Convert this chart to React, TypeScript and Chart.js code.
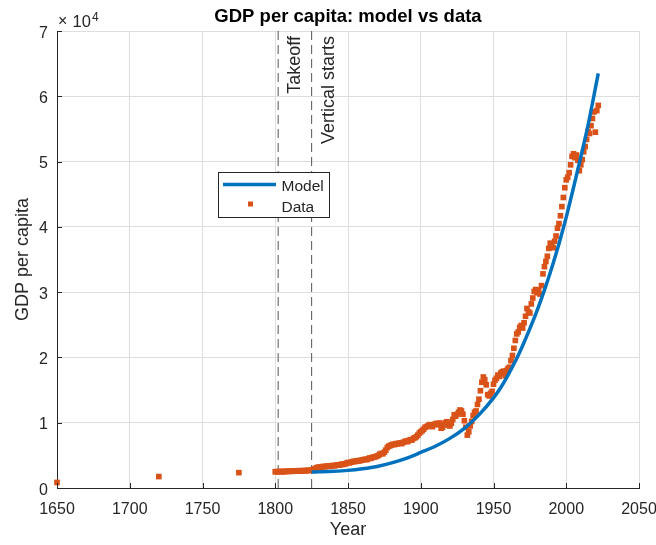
import React, { useEffect, useRef } from "react";
import { Chart, registerables } from "chart.js";

Chart.register(...registerables);

const FONT = '"Liberation Sans", Arial, Helvetica, sans-serif';
const INK = "#262626";
const GRID = "#dedede";
const MODEL_BLUE = "#0072BD";
const DATA_ORANGE = "#D95319";

const chartTitle = "GDP per capita: model vs data";
const xAxisTitle = "Year";
const yAxisTitle = "GDP per capita";
const xTickValues = [1650, 1700, 1750, 1800, 1850, 1900, 1950, 2000, 2050];
const yTickValues = [0, 10000, 20000, 30000, 40000, 50000, 60000, 70000];
const yExponent = 4;

// sparse early observations
const earlyYears = [1650, 1720, 1775];
const earlyGdp = [850, 1750, 2350];

// annual observations, 1800 onwards
const annualFirstYear = 1800;
const annualGdp = [
  2480, 2520, 2460, 2550, 2500, 2530, 2490, 2560, 2520, 2580,
  2540, 2600, 2560, 2620, 2580, 2600, 2650, 2610, 2660, 2620,
  2680, 2640, 2700, 2660, 2720, 2750, 2820, 2900, 3050, 3150,
  3200, 3150, 3250, 3300, 3250, 3350, 3300, 3400, 3350, 3420,
  3450, 3400, 3500, 3550, 3500, 3600, 3650, 3600, 3700, 3800,
  3900, 3850, 3950, 4000, 4100, 4050, 4150, 4200, 4150, 4250,
  4300, 4350, 4400, 4350, 4500, 4600, 4550, 4700, 4750, 4800,
  4900, 5000, 5200, 5300, 5250, 5500, 5800, 6200, 6400, 6500,
  6600, 6700, 6650, 6800, 6750, 6850, 6900, 6800, 7000, 7100,
  7200, 7100, 7300, 7400, 7350, 7600, 7700, 7850, 8100, 8400,
  8600, 8800, 9000, 9300, 9400, 9500, 9700, 9600, 9400, 9700,
  9800, 9900, 9700, 9950, 9150, 9300, 9700, 10000, 10150, 9600,
  9500, 9900, 10500, 11200, 11000, 11300, 11600, 11950, 11800, 11300,
  10300, 9300, 8100, 8600, 9500, 10200, 11100, 11600, 11800, 12800,
  13600, 14900, 16200, 17000, 16600, 15800, 14300, 14100, 14500, 14800,
  15900, 16500, 16800, 17300, 17100, 17600, 17800, 17900, 17200, 18000,
  18300, 18500, 19500, 20300, 21400, 22600, 23600, 23900, 24600, 24900,
  24500, 25300, 26300, 27500, 27000, 26800, 28200, 29100, 30100, 30400,
  29900, 30300, 29700, 31000, 32800, 33900, 34700, 35500, 36700, 37500,
  37200, 36800, 37800, 38600, 39800, 40500, 41700, 43100, 44500, 46000,
  47200, 47600, 48300, 49500, 50800, 51200, 50600, 51000, 50200, 48600,
  49500, 50300, 51500, 52300, 53400, 54600, 54300, 55500, 56600, 57600,
  54500, 57800, 58600,
];

// model path
const modelYears = [
  1825, 1830, 1840, 1850, 1860, 1870, 1880, 1890, 1900, 1910, 1920, 1930,
  1940, 1950, 1955, 1960, 1965, 1970, 1975, 1980, 1985, 1990, 1995, 2000,
  2005, 2010, 2015, 2020, 2022,
];
const modelGdp = [
  2450, 2480, 2560, 2700, 2950, 3300, 3850, 4550, 5450, 6400, 7600, 9150,
  11200, 13800, 15400, 17300, 19400, 21800, 24400, 27200, 30300, 33700, 37400, 41500,
  46000, 50700, 55600, 61200, 63500,
];

// vertical reference lines
const markerYears = [1802, 1825];
const markerLabels = ["Takeoff", "Vertical starts"];

const legendLabels = ["Model", "Data"];

const formatX = (v: number) => String(v);
const formatY = (v: number) => String(v / Math.pow(10, yExponent));

const decorations = {
  id: "decorations",
  afterDatasetsDraw(chart: any) {
    const { ctx, chartArea } = chart;
    const xs = chart.scales.x;
    const ys = chart.scales.y;
    const cx = (chartArea.left + chartArea.right) / 2;
    const cy = (chartArea.top + chartArea.bottom) / 2;
    ctx.save();

    // inward tick marks
    ctx.strokeStyle = INK;
    ctx.lineWidth = 1;
    ctx.beginPath();
    xTickValues.forEach((v) => {
      const px = Math.round(xs.getPixelForValue(v)) + 0.5;
      ctx.moveTo(px, chartArea.bottom);
      ctx.lineTo(px, chartArea.bottom - 5);
    });
    yTickValues.forEach((v) => {
      const py = Math.round(ys.getPixelForValue(v)) + 0.5;
      ctx.moveTo(chartArea.left, py);
      ctx.lineTo(chartArea.left + 5, py);
    });
    ctx.stroke();

    // tick labels
    ctx.fillStyle = INK;
    ctx.font = `16px ${FONT}`;
    ctx.textBaseline = "alphabetic";
    ctx.textAlign = "center";
    xTickValues.forEach((v) => {
      ctx.fillText(formatX(v), xs.getPixelForValue(v), chartArea.bottom + 26);
    });
    ctx.textAlign = "right";
    yTickValues.forEach((v) => {
      ctx.fillText(formatY(v), chartArea.left - 9, ys.getPixelForValue(v) + 6.5);
    });

    // exponent of the y axis
    ctx.textAlign = "left";
    ctx.font = `16px ${FONT}`;
    ctx.fillText("\u00d7", chartArea.left + 1, chartArea.top - 5);
    ctx.font = `16.5px ${FONT}`;
    ctx.fillText("10", chartArea.left + 15.5, chartArea.top - 4);
    ctx.font = `12px ${FONT}`;
    ctx.fillText(String(yExponent), chartArea.left + 35, chartArea.top - 10);

    // title and axis titles
    ctx.textAlign = "center";
    ctx.fillStyle = "#000";
    ctx.font = `bold 18.5px ${FONT}`;
    ctx.fillText(chartTitle, cx, 22);
    ctx.fillStyle = INK;
    ctx.font = `18px ${FONT}`;
    ctx.fillText(xAxisTitle, cx, chartArea.bottom + 47);
    ctx.save();
    ctx.translate(28, cy);
    ctx.rotate(-Math.PI / 2);
    ctx.fillText(yAxisTitle, 0, 0);
    ctx.restore();

    // labels of the vertical reference lines
    ctx.font = `18px ${FONT}`;
    ctx.textAlign = "right";
    markerYears.forEach((yr, i) => {
      const px = xs.getPixelForValue(yr);
      ctx.save();
      ctx.translate(px + 22, chartArea.top + 5);
      ctx.rotate(-Math.PI / 2);
      ctx.fillText(markerLabels[i], 0, 0);
      ctx.restore();
    });

    // legend
    const lx = 218.5, ly = 172.5, lw = 111, lh = 45;
    ctx.fillStyle = "#fff";
    ctx.fillRect(lx, ly, lw, lh);
    ctx.strokeStyle = INK;
    ctx.lineWidth = 1;
    ctx.strokeRect(lx, ly, lw, lh);
    ctx.strokeStyle = MODEL_BLUE;
    ctx.lineWidth = 3.5;
    ctx.beginPath();
    ctx.moveTo(223, 184.5);
    ctx.lineTo(276, 184.5);
    ctx.stroke();
    ctx.fillStyle = DATA_ORANGE;
    ctx.fillRect(248, 201.5, 5, 5);
    ctx.fillStyle = INK;
    ctx.textAlign = "left";
    ctx.font = `15.5px ${FONT}`;
    ctx.fillText(legendLabels[0], 281.5, 190.5);
    ctx.fillText(legendLabels[1], 281.5, 211.5);

    ctx.restore();
  },
};

export default function App() {
  const canvasRef = useRef<HTMLCanvasElement>(null);

  useEffect(() => {
    const canvas = canvasRef.current;
    if (!canvas) return;

    const dataPoints = [
      ...earlyYears.map((x, i) => ({ x, y: earlyGdp[i] })),
      ...annualGdp.map((y, i) => ({ x: annualFirstYear + i, y })),
    ];
    const modelPoints = modelYears.map((x, i) => ({ x, y: modelGdp[i] }));
    const markerSets = markerYears.map((yr) => ({
      data: [
        { x: yr, y: yTickValues[0] },
        { x: yr, y: yTickValues[yTickValues.length - 1] },
      ],
      showLine: true,
      borderColor: "#555555",
      borderWidth: 1,
      borderDash: [9, 5],
      pointRadius: 0,
      order: 3,
    }));

    const chart = new Chart(canvas, {
      type: "scatter",
      data: {
        datasets: [
          {
            label: legendLabels[0],
            data: modelPoints,
            showLine: true,
            borderColor: MODEL_BLUE,
            borderWidth: 3.5,
            pointRadius: 0,
            cubicInterpolationMode: "monotone",
            order: 0,
          },
          {
            label: legendLabels[1],
            data: dataPoints,
            showLine: false,
            pointStyle: "rect",
            pointRadius: 4,
            backgroundColor: DATA_ORANGE,
            borderWidth: 0,
            clip: false,
            order: 1,
          },
          ...markerSets,
        ] as any,
      },
      options: {
        responsive: false,
        animation: false,
        devicePixelRatio: 1,
        events: [],
        layout: { padding: { left: 0, top: 31, right: 17, bottom: 0 } },
        plugins: {
          legend: { display: false },
          tooltip: { enabled: false },
          title: { display: false },
        },
        scales: {
          x: {
            type: "linear",
            min: xTickValues[0],
            max: xTickValues[xTickValues.length - 1],
            afterBuildTicks: (s: any) => {
              s.ticks = xTickValues.map((value) => ({ value }));
            },
            afterFit: (s: any) => {
              s.height = 57;
            },
            ticks: { display: false },
            grid: { color: GRID, lineWidth: 1, drawTicks: false, tickLength: 0 },
            border: { display: true, color: INK, width: 1 },
          },
          y: {
            type: "linear",
            min: yTickValues[0],
            max: yTickValues[yTickValues.length - 1],
            afterBuildTicks: (s: any) => {
              s.ticks = yTickValues.map((value) => ({ value }));
            },
            afterFit: (s: any) => {
              s.width = 57;
            },
            ticks: { display: false },
            grid: { color: GRID, lineWidth: 1, drawTicks: false, tickLength: 0 },
            border: { display: true, color: INK, width: 1 },
          },
        },
      } as any,
      plugins: [decorations],
    });

    return () => chart.destroy();
  }, []);

  return (
    <div style={{ position: "fixed", left: 0, top: 0, width: 656, height: 545, background: "#fff" }}>
      <canvas ref={canvasRef} width={656} height={545} style={{ display: "block" }} />
    </div>
  );
}
